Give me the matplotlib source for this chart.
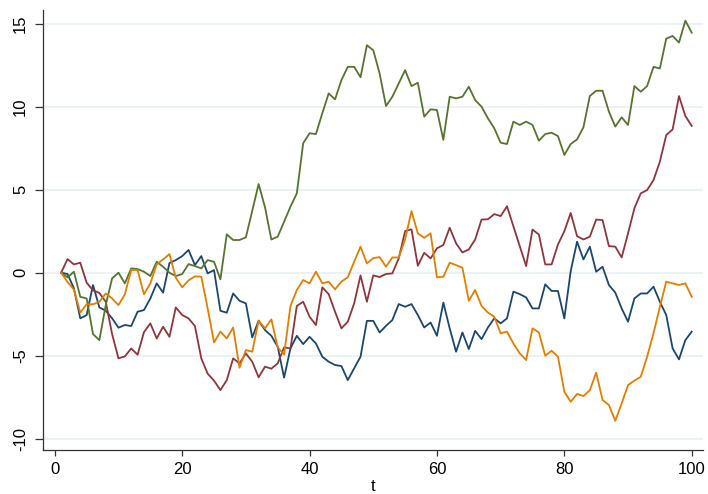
import numpy as np
import matplotlib
matplotlib.use("Agg")
import matplotlib.pyplot as plt

plt.rcParams["font.family"] = ["Liberation Sans", "DejaVu Sans"]

t = list(range(1, 101))

walk_navy = [
    0, -0.08, -0.94, -2.75, -2.55, -0.74, -2.09, -2.29, -2.75, -3.31,
    -3.15, -3.21, -2.35, -2.25, -1.55, -0.64, -1.2, 0.58, 0.76, 1.0,
    1.37, 0.46, 1.0, -0.04, 0.16, -2.29, -2.41, -1.25, -1.69, -1.85,
    -3.9, -2.89, -3.45, -3.8, -4.46, -6.32, -4.56, -3.8, -4.3, -3.86,
    -4.26, -5.06, -5.36, -5.56, -5.62, -6.47, -5.76, -5.06, -2.9, -2.9,
    -3.6, -3.2, -2.85, -1.89, -2.05, -1.89, -2.55, -3.3, -3.0, -3.8,
    -1.8, -3.35, -4.76, -3.6, -4.6, -3.5, -4.0, -3.3, -2.75, -3.05,
    -2.75, -1.14, -1.29, -1.49, -2.15, -2.15, -0.7, -1.1, -1.1, -2.75,
    0.1, 1.87, 0.8, 1.57, 0.06, 0.36, -0.74, -1.2, -2.15, -2.95,
    -1.55, -1.25, -1.25, -0.84, -1.75, -2.55, -4.56, -5.22, -4.06, -3.55,
]

walk_maroon = [
    0, 0.82, 0.5, 0.6, -0.6, -1.06, -1.22, -1.75, -3.7, -5.16,
    -5.04, -4.56, -4.94, -3.58, -3.05, -3.96, -3.25, -3.86, -2.09, -2.55,
    -2.75, -3.21, -5.16, -6.08, -6.5, -7.07, -6.47, -5.16, -5.46, -4.86,
    -5.36, -6.3, -5.66, -5.78, -5.46, -4.5, -4.56, -2.0, -1.75, -2.65,
    -3.15, -0.88, -1.29, -2.35, -3.35, -2.95, -1.85, -0.16, -1.75, -0.16,
    -0.26, -0.08, -0.04, 0.86, 2.51, 2.61, 0.42, 1.2, 0.86, 1.47,
    1.67, 2.71, 1.77, 1.22, 1.4, 2.0, 3.2, 3.22, 3.53, 3.41,
    4.0, 2.8, 1.6, 0.4, 2.6, 2.3, 0.5, 0.5, 1.7, 2.5,
    3.6, 2.2, 2.0, 2.17, 3.2, 3.17, 1.6, 1.57, 0.92, 2.37,
    3.88, 4.78, 4.98, 5.58, 6.69, 8.29, 8.63, 10.64, 9.44, 8.84,
]

walk_green = [
    0, -0.28, 0.06, -1.45, -1.55, -3.7, -4.06, -1.95, -0.34, 0.0,
    -0.64, 0.26, 0.22, 0.06, -0.2, 0.66, 0.36, 0.0, -0.2, -0.08,
    0.52, 0.4, 0.26, 0.76, 0.66, -0.4, 2.31, 1.97, 1.97, 2.13,
    3.73, 5.34, 3.95, 2.0, 2.17, 3.07, 3.98, 4.78, 7.8, 8.4,
    8.35, 9.6, 10.8, 10.44, 11.6, 12.4, 12.4, 11.77, 13.7, 13.4,
    12.0, 10.04, 10.6, 11.4, 12.2, 11.24, 11.44, 9.4, 9.84, 9.8,
    8.0, 10.6, 10.5, 10.6, 11.2, 10.4, 10.0, 9.3, 8.7, 7.83,
    7.75, 9.1, 8.9, 9.1, 8.9, 7.95, 8.35, 8.43, 8.23, 7.09,
    7.75, 8.03, 8.76, 10.64, 10.96, 10.96, 9.7, 8.8, 9.36, 8.9,
    11.24, 10.9, 11.24, 12.4, 12.3, 14.1, 14.26, 13.86, 15.18, 14.46,
]

walk_orange = [
    0, -0.56, -1.02, -2.4, -1.9, -1.9, -1.75, -1.25, -1.55, -1.95,
    -1.3, 0.16, 0.16, -1.3, -0.64, 0.5, 0.8, 1.12, -0.3, -0.88,
    -0.46, -0.22, -0.24, -2.15, -4.2, -3.55, -3.96, -3.3, -5.72, -4.66,
    -4.76, -2.89, -3.35, -2.81, -4.5, -4.93, -2.0, -1.04, -0.44, -0.64,
    0.06, -0.64, -0.54, -1.0, -0.54, -0.28, 0.66, 1.57, 0.56, 0.88,
    0.94, 0.36, 0.92, 0.92, 2.0, 3.71, 2.37, 2.1, 2.37, -0.28,
    -0.24, 0.6, 0.46, 0.3, -1.69, -1.04, -2.0, -2.4, -2.65, -3.65,
    -3.55, -4.26, -4.86, -5.26, -3.35, -3.6, -5.0, -4.7, -5.06, -7.17,
    -7.77, -7.3, -7.43, -7.08, -6.02, -7.67, -7.97, -8.92, -7.87, -6.77,
    -6.5, -6.27, -5.06, -3.65, -2.05, -0.54, -0.64, -0.74, -0.64, -1.45,
]

x_ticks = [0, 20, 40, 60, 80, 100]
y_ticks = [-10, -5, 0, 5, 10, 15]

fig = plt.figure(figsize=(7.08, 4.94), dpi=100)
ax = fig.add_axes([0.0612, 0.089, 0.932, 0.891])

lw = 1.3
ax.plot(t, walk_navy, color="#1A476F", lw=lw)
ax.plot(t, walk_maroon, color="#90353B", lw=lw)
ax.plot(t, walk_green, color="#55752F", lw=lw)
ax.plot(t, walk_orange, color="#E37E00", lw=lw)

ax.set_xlim(-1.8, 101.8)
ax.set_ylim(-10.68, 15.83)

ax.set_xticks(x_ticks)
ax.set_yticks(y_ticks)
ax.set_yticklabels([str(v) for v in y_ticks], rotation=90, va="center")

ax.yaxis.grid(True, color="#EAF2F3", lw=1.4)
ax.set_axisbelow(True)

for side in ("top", "right"):
    ax.spines[side].set_visible(False)
for side in ("left", "bottom"):
    ax.spines[side].set_color("#333333")
    ax.spines[side].set_linewidth(0.9)

ax.tick_params(axis="y", length=6, width=0.9, color="#333333", pad=5,
               labelsize=12, labelcolor="black")
ax.tick_params(axis="x", length=4.2, width=0.9, color="#333333", pad=4.5,
               labelsize=12, labelcolor="black")

ax.set_xlabel("t", fontsize=12, labelpad=1)

fig.savefig("out.png", dpi=100)
